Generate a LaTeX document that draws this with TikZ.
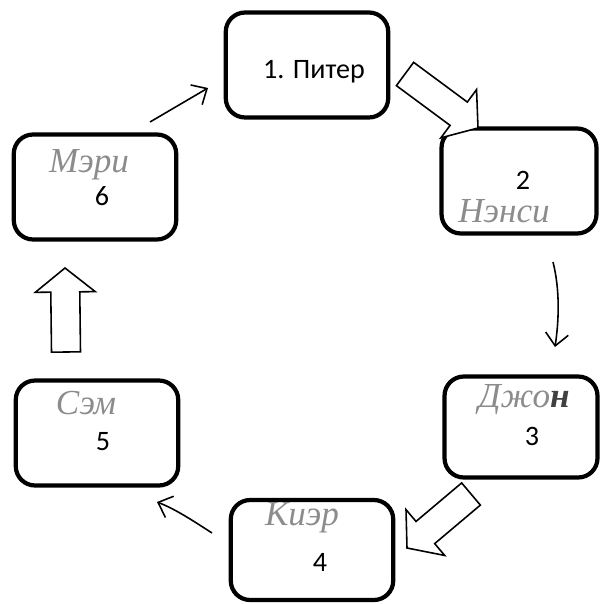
\documentclass[tikz,border=0pt]{standalone}
\usepackage{fontspec}
\setmainfont{Carlito}
\newfontfamily\handfont{Liberation Serif}
\usetikzlibrary{arrows.meta, calc}
\tikzset{person/.style={draw, line width=2.4pt, rounded corners=11pt,
    minimum width=3.25cm, minimum height=2.1cm},
    num/.style={font=\fontsize{16}{19}\selectfont},
    hand/.style={text=black!45, font=\handfont\itshape\fontsize{20}{24}\selectfont},
    passarrow/.style={line width=0.9pt, -{Straight Barb[length=7pt,width=13pt]}},
    blockarrow/.style={draw, line width=0.9pt, fill=white, line join=miter}}
% hollow arrow from #1 (tail) to #2 (tip)
\newcommand{\bigarrow}[2]{
    \coordinate (hb) at ($(#2)!0.48cm!(#1)$);
    \draw[blockarrow] ($(#1)!0.29cm!90:(#2)$) -- ($(hb)!0.29cm!-90:(#1)$)
        -- ($(hb)!0.6cm!-90:(#1)$) -- (#2) -- ($(hb)!0.6cm!90:(#1)$)
        -- ($(hb)!0.29cm!90:(#1)$) -- ($(#1)!0.29cm!-90:(#2)$) -- cycle;
}

\begin{document}
\begin{tikzpicture}[x=0.02cm, y=-0.02cm]
    \useasboundingbox (0,0) rectangle (600,604);

    \node[person] (piter) at (307,65) {};
    \node[person, minimum width=3.1cm] (nensi) at (519,181) {};
    \node[person, minimum width=3.06cm, minimum height=2.02cm] (dzhon) at (521,427) {};
    \node[person, minimum height=2cm] (kier) at (312,550) {};
    \node[person] (sem) at (97,433) {};
    \node[person] (meri) at (95,187) {};

    \node[num] (t1) at (314,72) {1. Питер};
    \node[num] (t2) at (523,180) {2};
    \node[hand] (h2) at (504,211) {Нэнси};
    \node[hand] (h3) at (524,400) {Джо{\color{black!75}\bfseries н}};
    \node[num] (t3) at (532,436) {3};
    \node[hand] (h4) at (302,518) {Киэр};
    \node[num] (t4) at (320,562) {4};
    \node[hand] (h5) at (86,403) {Сэм};
    \node[num] (t5) at (103,442) {5};
    \node[hand] (h6) at (89,165) {Мэри};
    \node[num] (t6) at (102,196) {6};

    \coordinate (a61s) at (150,122);
    \coordinate (a61e) at (208,88);
    \coordinate (a23s) at (553,262);
    \coordinate (a23e) at (555,347);
    \coordinate (a45s) at (212,533);
    \coordinate (a45e) at (157,502);
    \draw[passarrow] (a61s) -- (a61e);
    \draw[passarrow] (a23s) .. controls (560,290) and (559,320) .. (a23e);
    \draw[passarrow] (a45s) .. controls (192,520) and (175,509) .. (a45e);

    \coordinate (b12s) at (405,74);
    \coordinate (b12e) at (478,128);
    \coordinate (b34s) at (471,494);
    \coordinate (b34e) at (407,548);
    \coordinate (b56s) at (66,352);
    \coordinate (b56e) at (65,268);
    \bigarrow{b12s}{b12e}
    \bigarrow{b34s}{b34e}
    \bigarrow{b56s}{b56e}
\end{tikzpicture}
\end{document}
